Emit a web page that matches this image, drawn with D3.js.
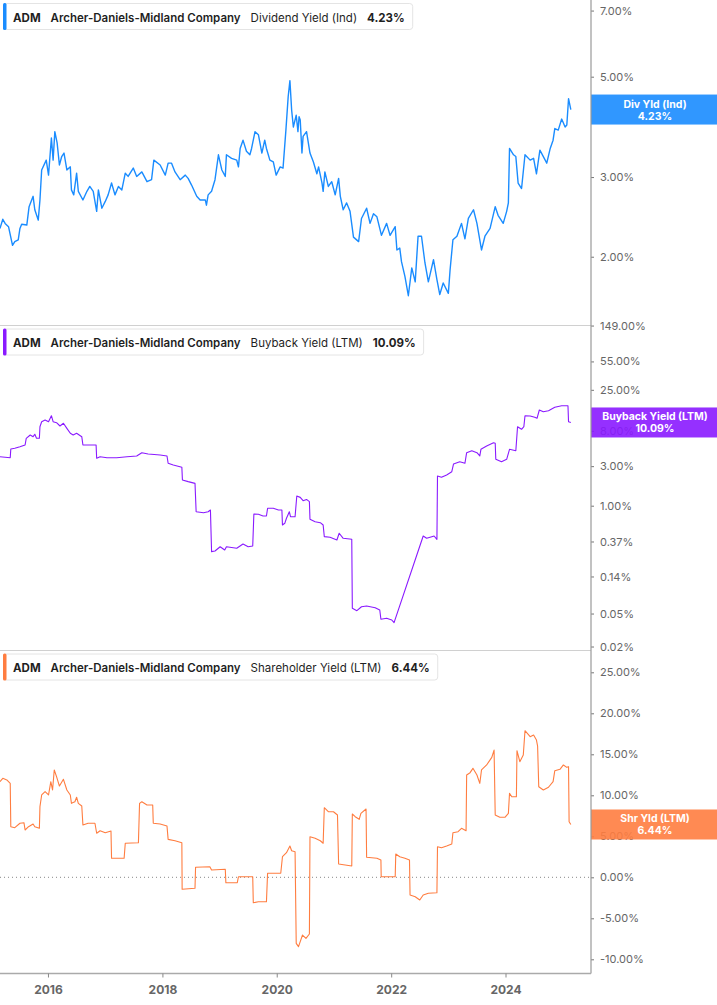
<!DOCTYPE html>
<html>
<head>
<meta charset="utf-8">
<script src="https://cdn.jsdelivr.net/npm/d3@7"></script>
<style>
  body { margin: 0; background: #fff; }
  svg { display: block; font-family: Inter, "Noto Sans", sans-serif; }
</style>
</head>
<body>
<svg id="chart"></svg>
<script>
// values, [decimal year, %]
const divYield = [[2015.16,2.31],[2015.21,2.42],[2015.25,2.37],[2015.31,2.33],[2015.38,2.12],[2015.42,2.16],[2015.48,2.18],[2015.51,2.31],[2015.54,2.36],[2015.63,2.35],[2015.67,2.58],[2015.74,2.72],[2015.77,2.54],[2015.83,2.41],[2015.86,2.67],[2015.89,3.11],[2015.97,3.27],[2016.01,3.03],[2016.06,3.66],[2016.09,3.27],[2016.12,3.78],[2016.16,3.57],[2016.20,3.19],[2016.24,3.33],[2016.28,3.39],[2016.33,3.11],[2016.39,3.16],[2016.41,2.81],[2016.45,2.74],[2016.50,3.06],[2016.53,2.79],[2016.61,2.67],[2016.68,2.79],[2016.73,2.86],[2016.79,2.79],[2016.85,2.52],[2016.88,2.81],[2016.94,2.56],[2017.00,2.65],[2017.05,2.74],[2017.11,2.91],[2017.17,2.74],[2017.23,2.86],[2017.29,2.81],[2017.35,3.06],[2017.40,3.01],[2017.49,3.14],[2017.55,3.01],[2017.64,3.08],[2017.73,2.93],[2017.81,2.96],[2017.85,3.27],[2017.96,3.19],[2018.05,3.03],[2018.10,3.22],[2018.16,3.22],[2018.22,3.08],[2018.31,2.96],[2018.40,3.03],[2018.45,2.98],[2018.51,2.88],[2018.60,2.72],[2018.66,2.67],[2018.75,2.67],[2018.77,2.60],[2018.80,2.74],[2018.86,2.79],[2018.92,2.96],[2018.98,3.36],[2019.04,3.11],[2019.10,3.01],[2019.12,3.36],[2019.21,3.30],[2019.30,3.27],[2019.33,3.16],[2019.36,3.47],[2019.41,3.62],[2019.47,3.42],[2019.53,3.36],[2019.56,3.47],[2019.62,3.78],[2019.68,3.72],[2019.74,3.39],[2019.79,3.62],[2019.82,3.47],[2019.88,3.27],[2019.94,3.24],[2019.99,3.03],[2020.06,3.16],[2020.11,3.14],[2020.16,3.81],[2020.20,4.52],[2020.23,4.90],[2020.26,4.22],[2020.29,3.87],[2020.34,4.11],[2020.37,3.78],[2020.39,4.08],[2020.41,4.01],[2020.44,3.39],[2020.46,3.69],[2020.52,3.78],[2020.58,3.39],[2020.64,3.24],[2020.70,3.05],[2020.73,3.16],[2020.79,2.91],[2020.81,2.79],[2020.84,3.08],[2020.90,2.86],[2020.96,2.93],[2021.02,2.74],[2021.08,2.98],[2021.11,2.72],[2021.16,2.54],[2021.22,2.63],[2021.28,2.52],[2021.34,2.21],[2021.43,2.16],[2021.48,2.43],[2021.57,2.56],[2021.63,2.37],[2021.69,2.49],[2021.75,2.45],[2021.83,2.23],[2021.92,2.37],[2021.98,2.23],[2022.07,2.33],[2022.10,2.07],[2022.15,2.09],[2022.18,1.95],[2022.24,1.81],[2022.30,1.64],[2022.36,1.89],[2022.42,1.76],[2022.47,2.22],[2022.53,2.22],[2022.59,1.94],[2022.65,1.76],[2022.74,1.97],[2022.80,1.78],[2022.85,1.65],[2022.91,1.75],[2023.00,1.66],[2023.03,1.87],[2023.08,2.18],[2023.15,2.22],[2023.23,2.37],[2023.29,2.19],[2023.35,2.43],[2023.44,2.54],[2023.50,2.37],[2023.58,2.07],[2023.64,2.22],[2023.73,2.31],[2023.82,2.58],[2023.87,2.47],[2023.96,2.37],[2024.02,2.52],[2024.05,2.63],[2024.07,3.47],[2024.14,3.36],[2024.18,3.33],[2024.22,2.91],[2024.28,2.83],[2024.34,3.36],[2024.43,3.27],[2024.49,3.30],[2024.54,3.05],[2024.60,3.44],[2024.66,3.33],[2024.72,3.22],[2024.78,3.47],[2024.83,3.62],[2024.86,3.84],[2024.92,3.81],[2024.98,4.03],[2025.04,3.87],[2025.07,3.91],[2025.10,4.47],[2025.14,4.23]];

const buybackYield = [[2015.16,3.90],[2015.34,3.79],[2015.35,4.83],[2015.42,4.93],[2015.51,5.15],[2015.60,5.40],[2015.62,6.50],[2015.69,7.13],[2015.74,6.80],[2015.77,7.27],[2015.80,6.50],[2015.85,6.50],[2015.86,8.97],[2015.89,10.31],[2015.95,10.81],[2016.01,10.31],[2016.06,12.18],[2016.09,10.31],[2016.15,10.03],[2016.21,9.15],[2016.27,9.86],[2016.33,8.58],[2016.39,7.47],[2016.44,7.13],[2016.50,7.47],[2016.59,6.80],[2016.61,5.40],[2016.70,5.40],[2016.84,5.40],[2016.85,3.73],[2016.91,3.90],[2017.03,3.79],[2017.20,3.79],[2017.38,3.90],[2017.55,3.98],[2017.64,4.36],[2017.75,4.20],[2017.96,4.09],[2018.08,3.98],[2018.10,3.25],[2018.19,3.10],[2018.34,2.91],[2018.35,2.04],[2018.45,1.95],[2018.57,1.86],[2018.59,0.846],[2018.72,0.823],[2018.80,0.846],[2018.84,0.888],[2018.86,0.279],[2018.92,0.284],[2019.01,0.320],[2019.09,0.292],[2019.12,0.320],[2019.30,0.306],[2019.41,0.345],[2019.50,0.320],[2019.58,0.327],[2019.60,0.794],[2019.68,0.788],[2019.76,0.751],[2019.82,0.751],[2019.84,0.930],[2019.94,0.930],[2020.03,0.888],[2020.09,0.888],[2020.10,0.585],[2020.14,0.613],[2020.17,0.705],[2020.22,0.846],[2020.24,0.737],[2020.32,0.737],[2020.35,1.31],[2020.41,1.26],[2020.46,1.15],[2020.52,1.19],[2020.57,1.12],[2020.58,0.685],[2020.67,0.641],[2020.76,0.624],[2020.81,0.585],[2020.83,0.423],[2020.93,0.416],[2021.05,0.386],[2021.09,0.465],[2021.16,0.404],[2021.31,0.393],[2021.32,0.0578],[2021.40,0.0541],[2021.48,0.0604],[2021.57,0.0617],[2021.72,0.0588],[2021.80,0.0552],[2021.82,0.0426],[2021.92,0.0438],[2022.01,0.0418],[2022.05,0.0388],[2022.56,0.431],[2022.62,0.404],[2022.71,0.423],[2022.75,0.431],[2022.80,0.393],[2022.81,2.28],[2022.88,2.20],[2022.97,2.35],[2023.06,2.57],[2023.09,3.18],[2023.20,3.39],[2023.29,3.25],[2023.32,4.36],[2023.41,4.61],[2023.50,4.36],[2023.55,3.98],[2023.57,4.79],[2023.67,5.25],[2023.79,5.75],[2023.82,5.66],[2023.83,3.63],[2023.93,3.39],[2024.02,3.63],[2024.07,4.79],[2024.18,4.61],[2024.21,8.97],[2024.28,8.35],[2024.32,8.97],[2024.34,12.18],[2024.43,12.08],[2024.51,11.66],[2024.55,11.34],[2024.59,14.27],[2024.66,13.61],[2024.75,14.0],[2024.86,15.38],[2024.98,16.08],[2025.09,16.08],[2025.10,10.31],[2025.14,10.09]];

const shareholderYield = [[2015.16,11.66],[2015.21,12.07],[2015.28,11.87],[2015.34,11.46],[2015.35,6.17],[2015.42,6.05],[2015.51,6.59],[2015.58,6.66],[2015.60,5.77],[2015.66,6.17],[2015.74,6.50],[2015.77,6.17],[2015.85,5.98],[2015.86,8.61],[2015.89,10.04],[2015.95,10.44],[2016.01,10.04],[2016.05,11.66],[2016.08,10.65],[2016.11,13.09],[2016.15,12.27],[2016.20,11.13],[2016.27,11.95],[2016.33,10.65],[2016.39,10.04],[2016.41,9.02],[2016.47,9.22],[2016.50,9.76],[2016.53,9.02],[2016.59,8.70],[2016.61,6.38],[2016.70,6.59],[2016.82,6.59],[2016.85,5.37],[2016.91,5.68],[2017.00,5.44],[2017.10,5.65],[2017.11,2.32],[2017.33,2.32],[2017.35,4.15],[2017.58,4.22],[2017.60,9.02],[2017.64,9.22],[2017.73,8.82],[2017.83,8.82],[2017.84,6.59],[2017.96,6.50],[2018.08,6.26],[2018.10,4.63],[2018.22,4.46],[2018.34,4.22],[2018.345,-1.46],[2018.57,-1.34],[2018.58,1.22],[2018.83,1.29],[2018.86,0.89],[2019.10,0.98],[2019.11,-0.66],[2019.31,-0.66],[2019.33,0.07],[2019.58,0.07],[2019.59,-3.10],[2019.68,-2.98],[2019.82,-2.98],[2019.84,0.49],[2020.07,0.49],[2020.10,2.51],[2020.17,3.0],[2020.23,3.82],[2020.26,3.24],[2020.32,3.12],[2020.34,-8.05],[2020.38,-8.46],[2020.41,-7.85],[2020.45,-7.04],[2020.51,-7.44],[2020.57,-6.91],[2020.58,4.95],[2020.67,4.76],[2020.76,4.46],[2020.81,4.15],[2020.83,8.49],[2020.90,8.0],[2020.99,8.0],[2021.06,7.60],[2021.08,1.62],[2021.31,1.38],[2021.32,7.72],[2021.37,7.39],[2021.44,7.07],[2021.47,7.80],[2021.56,8.33],[2021.57,2.44],[2021.75,2.32],[2021.82,2.11],[2021.825,0.07],[2022.07,0.07],[2022.08,2.84],[2022.15,2.51],[2022.24,2.32],[2022.32,2.11],[2022.33,-2.16],[2022.42,-2.37],[2022.50,-2.77],[2022.56,-2.16],[2022.65,-1.95],[2022.80,-1.88],[2022.81,3.73],[2022.88,3.61],[2022.97,3.82],[2023.06,4.06],[2023.08,5.44],[2023.17,5.56],[2023.23,5.98],[2023.31,5.68],[2023.32,12.48],[2023.38,12.76],[2023.43,13.29],[2023.50,12.48],[2023.55,11.46],[2023.58,13.09],[2023.67,13.70],[2023.76,14.63],[2023.80,15.52],[2023.82,7.60],[2023.90,7.32],[2023.99,7.32],[2024.05,7.80],[2024.07,10.24],[2024.11,9.83],[2024.19,9.83],[2024.20,15.44],[2024.25,14.10],[2024.31,14.91],[2024.34,17.88],[2024.43,17.15],[2024.49,17.35],[2024.54,16.74],[2024.56,16.01],[2024.58,11.05],[2024.66,10.65],[2024.75,10.98],[2024.83,11.66],[2024.86,13.0],[2024.95,13.17],[2025.01,13.70],[2025.07,13.41],[2025.10,13.49],[2025.11,6.78],[2025.14,6.44]];

const divTicks = [7, 5, 3, 2];
const buybackTicks = [149, 55, 25, 8, 3, 1, 0.37, 0.14, 0.05, 0.02];
const shrTicks = [25, 20, 15, 10, 5, 0, -5, -10];

const ticker = 'ADM';
const company = 'Archer-Daniels-Midland Company';

const W = 717, H = 1005;
const plotW = 591;

function toDate(y) {
  const yr = Math.floor(y);
  const s = Date.UTC(yr, 0, 1), e = Date.UTC(yr + 1, 0, 1);
  return new Date(s + (y - yr) * (e - s));
}

const svg = d3.select('#chart').attr('width', W).attr('height', H);

const x = d3.scaleUtc()
  .domain([toDate(2015.161), toDate(2025.493)])
  .range([0, plotW]);

const panels = [
  { name: 'Dividend Yield (Ind)', short: 'Div Yld (Ind)', data: divYield, ticks: divTicks, sw: 1.4,
    color: '#1a8cff', y: d3.scaleLog().domain([1.413, 7.387]).range([325, 0]), top: 0 },
  { name: 'Buyback Yield (LTM)', short: 'Buyback Yield (LTM)', data: buybackYield, ticks: buybackTicks, sw: 1.1,
    color: '#8a1aff', y: d3.scaleLog().domain([0.01816, 151.3]).range([650, 325]), top: 325.5 },
  { name: 'Shareholder Yield (LTM)', short: 'Shr Yld (LTM)', data: shareholderYield, ticks: shrTicks, sw: 1.1,
    color: '#ff7d40', y: d3.scaleLinear().domain([-11.67, 27.72]).range([973, 650]), top: 650.5, zero: true }
];

// separators
svg.selectAll('line.sep').data([325.5, 650.5]).join('line')
  .attr('x1', 0).attr('x2', plotW).attr('y1', d => d).attr('y2', d => d)
  .attr('stroke', '#d0d0d0').attr('stroke-width', 1);

panels.forEach(p => {
  if (p.zero) {
    svg.append('line')
      .attr('x1', 0).attr('x2', plotW)
      .attr('y1', p.y(0)).attr('y2', p.y(0))
      .attr('stroke', '#888').attr('stroke-width', 1)
      .attr('stroke-dasharray', '1,3');
  }

  const line = d3.line()
    .x(d => x(toDate(d[0])))
    .y(d => p.y(d[1]));

  svg.append('path')
    .datum(p.data)
    .attr('fill', 'none')
    .attr('stroke', p.color)
    .attr('stroke-width', p.sw)
    .attr('stroke-linejoin', 'round')
    .attr('d', line);

  // right axis
  const ax = svg.append('g')
    .attr('transform', `translate(${plotW},0)`)
    .call(d3.axisRight(p.y).tickValues(p.ticks).tickFormat(d => d.toFixed(2) + '%').tickSize(3).tickPadding(6));
  ax.select('.domain').remove();
  ax.selectAll('line').attr('stroke', '#777');
  ax.selectAll('text').attr('fill', '#666').style('font-size', '11px').style('font-family', 'Inter');

  // legend box
  const lg = svg.append('g').attr('transform', `translate(3.5,${p.top + 3.5})`);
  const box = lg.append('rect').attr('width', 10).attr('height', 26).attr('rx', 3)
    .attr('fill', '#fff').attr('stroke', '#e4e4e4');
  lg.append('rect').attr('x', -0.5).attr('y', -0.5).attr('width', 3.5).attr('height', 27).attr('rx', 1.5)
    .attr('fill', p.color);
  const parts = [
    { t: ticker, w: 700 },
    { t: company, w: 600 },
    { t: p.name, w: 400 },
    { t: p.data[p.data.length - 1][1].toFixed(2) + '%', w: 700 }
  ];
  let cx = 9.5;
  parts.forEach(pt => {
    const tx = lg.append('text').attr('x', cx).attr('y', 18)
      .attr('fill', '#1f1f1f').style('font-size', '11.5px').style('font-weight', pt.w).text(pt.t);
    cx += tx.node().getComputedTextLength() + 10;
  });
  box.attr('width', cx - 2);

  // last value label
  const last = p.data[p.data.length - 1];
  const ly = p.y(last[1]);
  const vl = svg.append('g').attr('transform', `translate(${plotW},${ly - 15})`);
  vl.append('rect').attr('width', W - plotW).attr('height', 30).attr('fill', p.color).attr('fill-opacity', 0.9);
  vl.append('text').attr('x', (W - plotW) / 2 + 1).attr('y', 13).attr('text-anchor', 'middle')
    .attr('fill', '#fff').style('font-size', '10.5px').style('font-weight', 700).text(p.short);
  vl.append('text').attr('x', (W - plotW) / 2 + 1).attr('y', 25).attr('text-anchor', 'middle')
    .attr('fill', '#fff').style('font-size', '10.5px').style('font-weight', 700).text(last[1].toFixed(2) + '%');
});

// axis frame
svg.append('line').attr('x1', plotW).attr('x2', plotW).attr('y1', 0).attr('y2', 973.5)
  .attr('stroke', '#999').attr('stroke-width', 1.2);

const xa = svg.append('g')
  .attr('transform', 'translate(0,973.5)')
  .call(d3.axisBottom(x).ticks(d3.utcYear.every(2)).tickFormat(d3.utcFormat('%Y')).tickSize(4).tickPadding(8));
xa.select('.domain').attr('stroke', '#aaa').attr('stroke-width', 1.5).attr('d', `M0,0H${plotW}`);
xa.selectAll('line').attr('stroke', '#888');
xa.selectAll('text').attr('fill', '#666').style('font-size', '12px').style('font-weight', 700).style('font-family', 'Inter');
</script>
</body>
</html>
